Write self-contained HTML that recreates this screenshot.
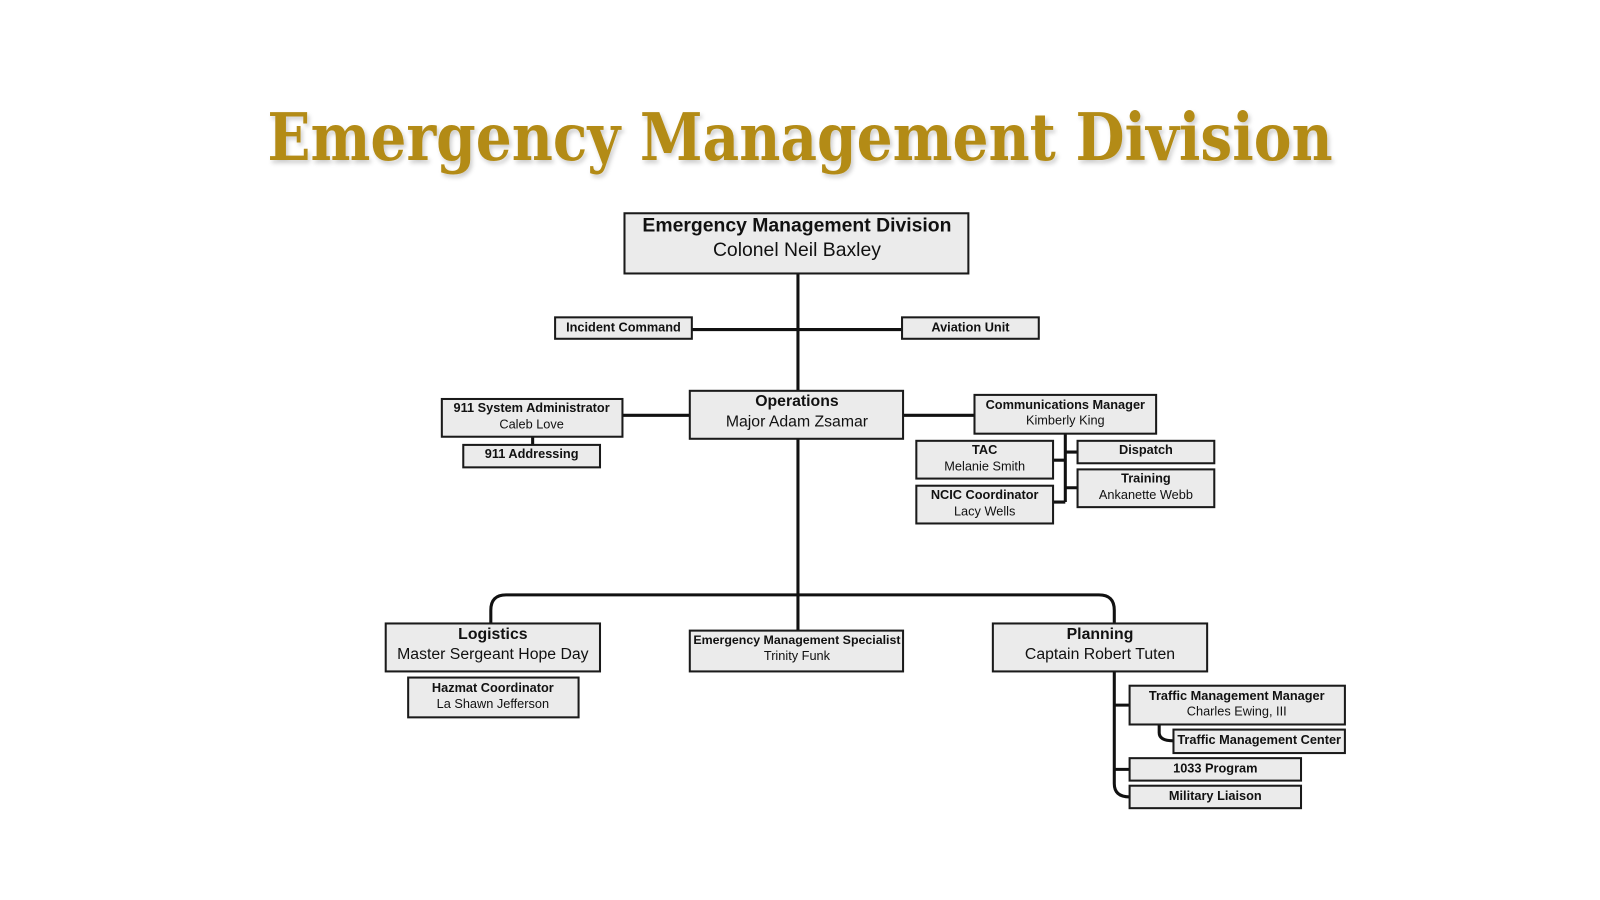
<!DOCTYPE html>
<html><head><meta charset="utf-8"><style>
html,body{margin:0;padding:0;background:#fff;}
svg{display:block}
text{font-family:"Liberation Sans",sans-serif;fill:#111;text-anchor:middle}
.b{font-weight:bold}
rect{fill:#ebebeb;stroke:#1a1a1a;stroke-width:2}
.l{stroke:#111;stroke-width:3;fill:none}
</style></head><body>
<svg width="1600" height="900" viewBox="0 0 1568 882">
<defs><filter id="sh"><feDropShadow dx="2" dy="3" stdDeviation="2" flood-color="#000" flood-opacity="0.2"/></filter></defs>
<text x="784" y="157" textLength="1044" lengthAdjust="spacingAndGlyphs" style="font-family:'DejaVu Serif',serif;font-weight:bold;font-size:64px;fill:#b38b17" filter="url(#sh)">Emergency Management Division</text>

<path class="l" d="M782 268V583M678 323H884M610 407H676M885 407H955M522 428V436"/>
<path class="l" d="M1044 425V492M1032 451H1044M1032 492H1044M1044 443H1056M1044 478H1056"/>
<path class="l" d="M481 611V598Q481 583 496 583H1077Q1092 583 1092 598V611M782 583V618"/>
<path class="l" d="M1092 658V768Q1092 781 1107 781M1092 691H1107M1092 754H1107M1136 710V718Q1136 726 1150 726"/>

<rect x="612" y="209" width="337" height="59"/>
<text x="781" y="227" class="b" font-size="19">Emergency Management Division</text>
<text x="781" y="251" font-size="19">Colonel Neil Baxley</text>

<rect x="544" y="311" width="134" height="21"/>
<text x="611" y="325" class="b" font-size="12.5">Incident Command</text>
<rect x="884" y="311" width="134" height="21"/>
<text x="951" y="325" class="b" font-size="12.5">Aviation Unit</text>

<rect x="676" y="383" width="209" height="47"/>
<text x="781" y="398" class="b" font-size="15.5">Operations</text>
<text x="781" y="418" font-size="15.5">Major Adam Zsamar</text>

<rect x="433" y="391" width="177" height="37"/>
<text x="521" y="404" class="b" font-size="12.5">911 System Administrator</text>
<text x="521" y="420" font-size="12.5">Caleb Love</text>
<rect x="454" y="436" width="134" height="22"/>
<text x="521" y="449" class="b" font-size="12.5">911 Addressing</text>

<rect x="955" y="387" width="178" height="38"/>
<text x="1044" y="401" class="b" font-size="12.5">Communications Manager</text>
<text x="1044" y="416" font-size="12.5">Kimberly King</text>
<rect x="898" y="432" width="134" height="37"/>
<text x="965" y="445" class="b" font-size="12.5">TAC</text>
<text x="965" y="461" font-size="12.5">Melanie Smith</text>
<rect x="898" y="476" width="134" height="37"/>
<text x="965" y="489" class="b" font-size="12.5">NCIC Coordinator</text>
<text x="965" y="505" font-size="12.5">Lacy Wells</text>
<rect x="1056" y="432" width="134" height="22"/>
<text x="1123" y="445" class="b" font-size="12.5">Dispatch</text>
<rect x="1056" y="460" width="134" height="37"/>
<text x="1123" y="473" class="b" font-size="12.5">Training</text>
<text x="1123" y="489" font-size="12.5">Ankanette Webb</text>

<rect x="378" y="611" width="210" height="47"/>
<text x="483" y="626" class="b" font-size="15.5">Logistics</text>
<text x="483" y="646" font-size="15.5">Master Sergeant Hope Day</text>
<rect x="400" y="664" width="167" height="39"/>
<text x="483" y="678" class="b" font-size="12.5">Hazmat Coordinator</text>
<text x="483" y="694" font-size="12.5">La Shawn Jefferson</text>

<rect x="676" y="618" width="209" height="40"/>
<text x="781" y="631" class="b" font-size="12" textLength="203" lengthAdjust="spacingAndGlyphs">Emergency Management Specialist</text>
<text x="781" y="647" font-size="12.5">Trinity Funk</text>

<rect x="973" y="611" width="210" height="47"/>
<text x="1078" y="626" class="b" font-size="15.5">Planning</text>
<text x="1078" y="646" font-size="15.5">Captain Robert Tuten</text>

<rect x="1107" y="672" width="211" height="38"/>
<text x="1212" y="686" class="b" font-size="12.5">Traffic Management Manager</text>
<text x="1212" y="701" font-size="12.5">Charles Ewing, III</text>
<rect x="1150" y="715" width="168" height="23"/>
<text x="1234" y="729" class="b" font-size="12.5">Traffic Management Center</text>
<rect x="1107" y="743" width="168" height="22"/>
<text x="1191" y="757" class="b" font-size="12.5">1033 Program</text>
<rect x="1107" y="770" width="168" height="22"/>
<text x="1191" y="784" class="b" font-size="12.5">Military Liaison</text>
</svg>
</body></html>
